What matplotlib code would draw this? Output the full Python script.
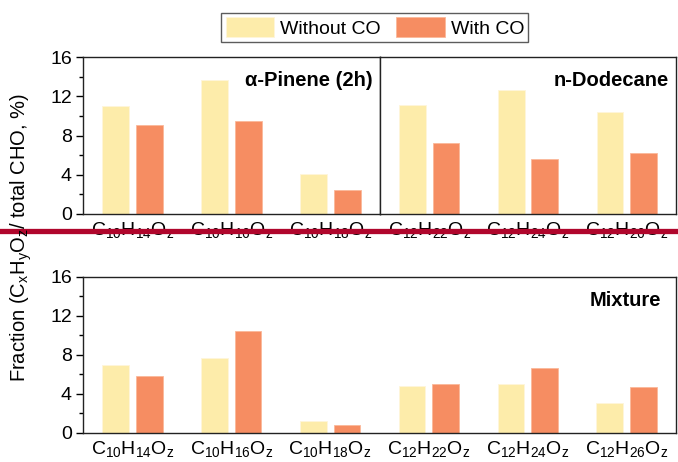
import numpy as np
import matplotlib
matplotlib.use('Agg')
import matplotlib.pyplot as plt
from matplotlib.ticker import MultipleLocator

plt.rcParams['font.family'] = ['Liberation Sans', 'DejaVu Sans']
plt.rcParams['mathtext.default'] = 'regular'

# --- Data ---
pinene_labels = ['C$_{10}$H$_{14}$O$_z$', 'C$_{10}$H$_{16}$O$_z$', 'C$_{10}$H$_{18}$O$_z$']
dodecane_labels = ['C$_{12}$H$_{22}$O$_z$', 'C$_{12}$H$_{24}$O$_z$', 'C$_{12}$H$_{26}$O$_z$']
mixture_labels = pinene_labels + dodecane_labels

pinene_without = [11.05, 13.65, 4.05]
pinene_with = [9.05, 9.5, 2.4]
dodecane_without = [11.07, 12.67, 10.43]
dodecane_with = [7.25, 5.65, 6.22]
mixture_without = [6.98, 7.73, 1.19, 4.77, 5.04, 3.1]
mixture_with = [5.86, 10.49, 0.85, 5.0, 6.64, 4.73]

c_without = '#FDECAA'
c_with = '#F68D62'

fig = plt.figure(figsize=(6.78, 4.62), dpi=100)
ax1 = fig.add_axes([0.1224, 0.5368, 0.438, 0.3398])
ax2 = fig.add_axes([0.5604, 0.5368, 0.4366, 0.3398])
ax3 = fig.add_axes([0.1224, 0.0628, 0.8746, 0.3377])

w = 0.27
off = 0.17

def draw(ax, labels, v0, v1, title):
    x = np.arange(len(labels))
    ax.bar(x - off, v0, w, color=c_without, edgecolor='#FFF6DA', linewidth=0.6,
           label='Without CO')
    ax.bar(x + off, v1, w, color=c_with, edgecolor='#FBB89A', linewidth=0.6,
           label='With CO')
    ax.set_xlim(-0.5, len(labels) - 0.5)
    ax.set_ylim(0, 16)
    ax.set_xticks(x)
    ax.set_xticklabels(labels, fontsize=14)
    ax.tick_params(axis='x', length=0, pad=4)
    ax.yaxis.set_major_locator(MultipleLocator(4))
    ax.yaxis.set_minor_locator(MultipleLocator(2))
    ax.tick_params(axis='y', which='major', length=5, width=1, labelsize=14, pad=3)
    ax.tick_params(axis='y', which='minor', length=3, width=1)
    for s in ax.spines.values():
        s.set_linewidth(1.0)
        s.set_color('#222222')
    ax.text(0.975, 0.85, title, transform=ax.transAxes, ha='right', va='center',
            fontsize=14.5, fontweight='bold')

draw(ax1, pinene_labels, pinene_without, pinene_with, '\u03b1-Pinene (2h)')
draw(ax2, dodecane_labels, dodecane_without, dodecane_with, 'n-Dodecane')
draw(ax3, mixture_labels, mixture_without, mixture_with, 'Mixture')
ax2.tick_params(axis='y', which='both', left=False, labelleft=False)

fig.text(0.032, 0.487, 'Fraction (C$_x$H$_y$O$_z$/ total CHO, %)', rotation=90,
         ha='center', va='center', fontsize=14.5)

handles, lbls = ax1.get_legend_handles_labels()
leg = fig.legend(handles, lbls, loc='center', bbox_to_anchor=(0.553, 0.941), ncol=2,
                 fontsize=14, frameon=True, fancybox=False, edgecolor='#333333',
                 handlelength=2.5, handleheight=1.2, handletextpad=0.3,
                 columnspacing=0.8, borderpad=0.22, borderaxespad=0)
leg.get_frame().set_linewidth(1.0)

# red overlay line across the figure
fig.add_artist(plt.Line2D([0, 1], [0.501, 0.501], transform=fig.transFigure,
                          color='#B0062C', linewidth=3.8))

fig.savefig('out.png', dpi=100)
